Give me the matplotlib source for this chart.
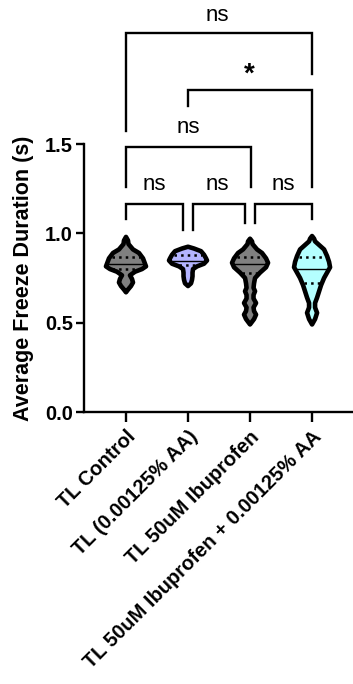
import numpy as np
import matplotlib.pyplot as plt

plt.rcParams['font.family'] = ['Liberation Sans', 'DejaVu Sans']

groups = ['TL Control', 'TL (0.00125% AA)', 'TL 50uM Ibuprofen',
          'TL 50uM Ibuprofen + 0.00125% AA']
colors = ['#808080', '#b4b4ff', '#808080', '#b4ffff']

# violin outlines: value levels and half widths (px)
v1_y = [0.98, 0.96, 0.94, 0.91, 0.89, 0.86, 0.83, 0.815, 0.80, 0.785, 0.765, 0.745, 0.725, 0.705, 0.685, 0.67]
v1_w = [0, 2, 2.5, 7, 13, 17, 19, 20, 16, 9, 4, 6, 7, 5, 2, 0]
v2_y = [0.925, 0.915, 0.90, 0.88, 0.86, 0.848, 0.83, 0.815, 0.80, 0.78, 0.76, 0.74, 0.72, 0.705]
v2_w = [0, 6, 13, 16, 18, 19, 16, 9, 5, 4.5, 4.5, 4, 3, 0]
v3_y = [0.97, 0.955, 0.94, 0.91, 0.89, 0.86, 0.835, 0.81, 0.78, 0.75, 0.72, 0.695, 0.676, 0.655, 0.635, 0.61, 0.585, 0.565, 0.545, 0.52, 0.49]
v3_w = [0, 2, 2.5, 7, 12, 16, 18, 16, 10, 5, 4, 3.5, 5, 3.5, 3.5, 6, 3.5, 4, 6, 4, 0]
v4_y = [0.985, 0.97, 0.955, 0.93, 0.91, 0.873, 0.84, 0.81, 0.78, 0.75, 0.71, 0.675, 0.64, 0.61, 0.585, 0.555, 0.52, 0.49]
v4_w = [0, 2, 3, 8, 12, 15, 17, 18, 15, 12, 9, 7, 5, 3, 3, 5, 3, 0]
profiles = [(v1_y, v1_w), (v2_y, v2_w), (v3_y, v3_w), (v4_y, v4_w)]

medians = [0.83, 0.845, 0.83, 0.80]
q1 = [0.80, 0.82, 0.78, 0.72]
q3 = [0.87, 0.88, 0.87, 0.865]

# significance brackets: (x left, x right, bar y, left leg end, right leg end, label, label x, label y)
brackets = [
    (0.0, 0.92, 1.163, 1.08, 1.02, 'ns', 0.45, 1.275),
    (1.08, 1.92, 1.163, 1.02, 1.06, 'ns', 1.48, 1.275),
    (2.08, 3.0, 1.163, 1.06, 1.08, 'ns', 2.53, 1.275),
    (0.0, 2.01, 1.483, 1.26, 1.26, 'ns', 1.0, 1.595),
    (1.0, 3.0, 1.805, 1.71, 1.26, '*', 1.98, 1.89),
    (0.0, 3.0, 2.12, 1.573, 1.89, 'ns', 1.48, 2.22),
]

px = 62.0  # pixels per category

fig = plt.figure(figsize=(3.53, 6.84), dpi=100)
ax = fig.add_axes([84 / 353, 1 - 412 / 684, 1 - 84 / 353, (412 - 144) / 684])

for i, (ys, ws) in enumerate(profiles):
    ys = np.array(ys)
    ws = np.array(ws) / px
    xs = np.concatenate([i - ws, (i + ws)[::-1]])
    yy = np.concatenate([ys, ys[::-1]])
    ax.fill(xs, yy, facecolor=colors[i], edgecolor='black', linewidth=3.3,
            joinstyle='round', zorder=3)
    for val, ls, lw in [(medians[i], '-', 1.0), (q1[i], ':', 1.8), (q3[i], ':', 1.8)]:
        hw = np.interp(val, ys[::-1], ws[::-1]) - 2 / px
        ax.plot([i - hw, i + hw], [val, val], color='black', linestyle=ls,
                linewidth=lw, zorder=4)

for xl, xr, yb, yl, yr, lab, tx, ty in brackets:
    ax.plot([xl, xl, xr, xr], [yl, yb, yb, yr], color='black', linewidth=1.7,
            clip_on=False, solid_joinstyle='miter')
    if lab == '*':
        ax.text(tx, ty, lab, ha='center', va='center', fontsize=20, fontweight='bold')
    else:
        ax.text(tx, ty, lab, ha='center', va='center', fontsize=16)

ax.set_xlim(-0.677, 3.66)
ax.set_ylim(0, 1.5)
ax.set_yticks([0.0, 0.5, 1.0, 1.5])
ax.set_yticklabels(['0.0', '0.5', '1.0', '1.5'], fontweight='bold', fontsize=14.5)
ax.set_xticks(range(4))
ax.set_xticklabels(groups, rotation=45, ha='right', rotation_mode='anchor',
                   fontweight='bold', fontsize=14.5)
ax.set_ylabel('Average Freeze Duration (s)', fontweight='bold', fontsize=15.5, labelpad=8)

for s in ['top', 'right']:
    ax.spines[s].set_visible(False)
for s in ['left', 'bottom']:
    ax.spines[s].set_linewidth(1.7)
ax.tick_params(axis='both', width=1.7, length=6, pad=2)
ax.tick_params(axis='x', length=7, pad=4)

plt.savefig('out.png', dpi=100)
